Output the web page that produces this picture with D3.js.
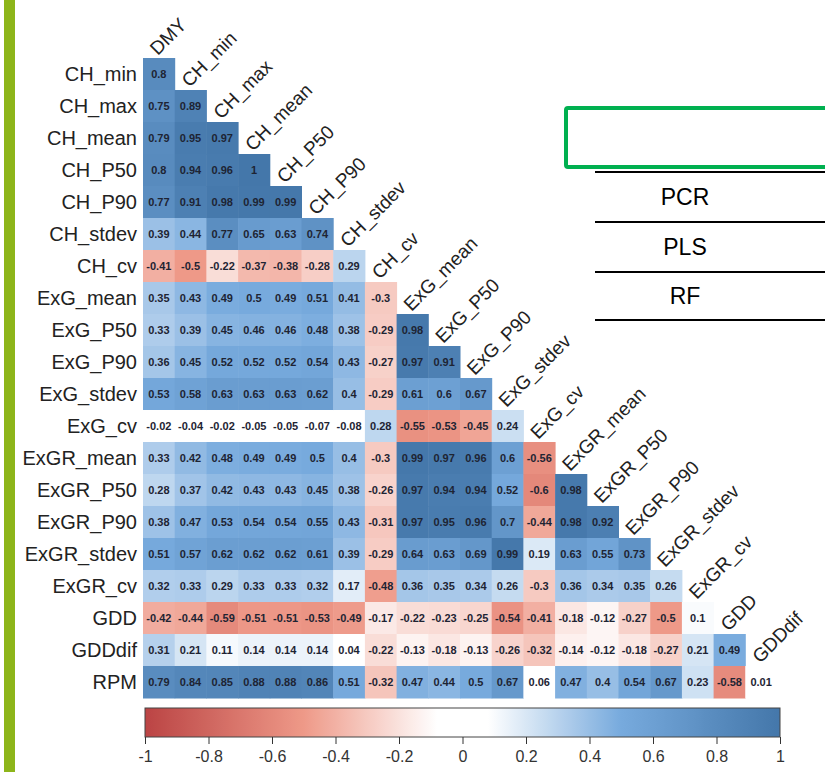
<!DOCTYPE html>
<html>
<head>
<meta charset="utf-8">
<script src="https://cdn.jsdelivr.net/npm/d3@7"></script>
<style>
  body { margin: 0; background: #fff; }
  text { font-family: "Liberation Sans", Arial, sans-serif; }
</style>
</head>
<body>
<svg width="825" height="772"></svg>
<script>
var svg = d3.select("svg"),
  width = 825,
  height = 772;

// variable names on each axis
var rowLabels = ["CH_min", "CH_max", "CH_mean", "CH_P50", "CH_P90", "CH_stdev", "CH_cv",
  "ExG_mean", "ExG_P50", "ExG_P90", "ExG_stdev", "ExG_cv", "ExGR_mean", "ExGR_P50",
  "ExGR_P90", "ExGR_stdev", "ExGR_cv", "GDD", "GDDdif", "RPM"];
var colLabels = ["DMY", "CH_min", "CH_max", "CH_mean", "CH_P50", "CH_P90", "CH_stdev", "CH_cv",
  "ExG_mean", "ExG_P50", "ExG_P90", "ExG_stdev", "ExG_cv", "ExGR_mean", "ExGR_P50",
  "ExGR_P90", "ExGR_stdev", "ExGR_cv", "GDD", "GDDdif"];

// lower triangle, one list per row
var corrValues = [
  [0.8],
  [0.75, 0.89],
  [0.79, 0.95, 0.97],
  [0.8, 0.94, 0.96, 1],
  [0.77, 0.91, 0.98, 0.99, 0.99],
  [0.39, 0.44, 0.77, 0.65, 0.63, 0.74],
  [-0.41, -0.5, -0.22, -0.37, -0.38, -0.28, 0.29],
  [0.35, 0.43, 0.49, 0.5, 0.49, 0.51, 0.41, -0.3],
  [0.33, 0.39, 0.45, 0.46, 0.46, 0.48, 0.38, -0.29, 0.98],
  [0.36, 0.45, 0.52, 0.52, 0.52, 0.54, 0.43, -0.27, 0.97, 0.91],
  [0.53, 0.58, 0.63, 0.63, 0.63, 0.62, 0.4, -0.29, 0.61, 0.6, 0.67],
  [-0.02, -0.04, -0.02, -0.05, -0.05, -0.07, -0.08, 0.28, -0.55, -0.53, -0.45, 0.24],
  [0.33, 0.42, 0.48, 0.49, 0.49, 0.5, 0.4, -0.3, 0.99, 0.97, 0.96, 0.6, -0.56],
  [0.28, 0.37, 0.42, 0.43, 0.43, 0.45, 0.38, -0.26, 0.97, 0.94, 0.94, 0.52, -0.6, 0.98],
  [0.38, 0.47, 0.53, 0.54, 0.54, 0.55, 0.43, -0.31, 0.97, 0.95, 0.96, 0.7, -0.44, 0.98, 0.92],
  [0.51, 0.57, 0.62, 0.62, 0.62, 0.61, 0.39, -0.29, 0.64, 0.63, 0.69, 0.99, 0.19, 0.63, 0.55, 0.73],
  [0.32, 0.33, 0.29, 0.33, 0.33, 0.32, 0.17, -0.48, 0.36, 0.35, 0.34, 0.26, -0.3, 0.36, 0.34, 0.35, 0.26],
  [-0.42, -0.44, -0.59, -0.51, -0.51, -0.53, -0.49, -0.17, -0.22, -0.23, -0.25, -0.54, -0.41, -0.18, -0.12, -0.27, -0.5, 0.1],
  [0.31, 0.21, 0.11, 0.14, 0.14, 0.14, 0.04, -0.22, -0.13, -0.18, -0.13, -0.26, -0.32, -0.14, -0.12, -0.18, -0.27, 0.21, 0.49],
  [0.79, 0.84, 0.85, 0.88, 0.88, 0.86, 0.51, -0.32, 0.47, 0.44, 0.5, 0.67, 0.06, 0.47, 0.4, 0.54, 0.67, 0.23, -0.58, 0.01]
];

var legendTicks = [-1, -0.8, -0.6, -0.4, -0.2, 0, 0.2, 0.4, 0.6, 0.8, 1];
var modelNames = ["PCR", "PLS", "RF"];

// colour ramp with a white band round zero
var color = d3.scaleLinear()
  .domain([-1, -0.5, -0.08, 0.08, 0.5, 1])
  .range(["#BB4444", "#EE9988", "#FFFFFF", "#FFFFFF", "#77AADD", "#4477AA"])
  .clamp(true);

// green bar on the left edge of the slide
svg.append("rect")
  .attr("x", 4).attr("y", 0)
  .attr("width", 11).attr("height", height)
  .attr("fill", "#8db51a");

var x = d3.scaleBand().domain(colLabels).range([143, 777]);
var y = d3.scaleBand().domain(rowLabels).range([58, 698]);

var cells = [];
corrValues.forEach((row, i) => {
  row.forEach((v, j) => {
    cells.push({ row: rowLabels[i], col: colLabels[j], value: v });
  });
});

var g = svg.append("g");

g.selectAll("rect.cell")
  .data(cells)
  .enter()
  .append("rect")
  .attr("class", "cell")
  .attr("x", (d) => x(d.col))
  .attr("y", (d) => y(d.row))
  .attr("width", x.bandwidth() + 0.5)
  .attr("height", y.bandwidth() + 0.5)
  .attr("fill", (d) => color(d.value));

g.selectAll("text.num")
  .data(cells)
  .enter()
  .append("text")
  .attr("class", "num")
  .attr("x", (d) => x(d.col) + x.bandwidth() / 2)
  .attr("y", (d) => y(d.row) + y.bandwidth() / 2)
  .attr("dy", "0.36em")
  .attr("text-anchor", "middle")
  .attr("font-size", "11px")
  .attr("font-weight", "bold")
  .attr("fill", "#1e2433")
  .text((d) => String(d.value));

// row names
g.selectAll("text.rowlab")
  .data(rowLabels)
  .enter()
  .append("text")
  .attr("class", "rowlab")
  .attr("x", 137)
  .attr("y", (d) => y(d) + y.bandwidth() / 2)
  .attr("dy", "0.36em")
  .attr("text-anchor", "end")
  .attr("font-size", "20px")
  .attr("fill", "#222")
  .text((d) => d);

// column names, tilted, sitting on top of each column
g.selectAll("text.collab")
  .data(colLabels)
  .enter()
  .append("text")
  .attr("class", "collab")
  .attr("transform", (d, j) => {
    var cx = x(d) + x.bandwidth() / 2 - 1;
    var cy = y(rowLabels[j]) - 2;
    return "translate(" + cx + "," + cy + ") rotate(-45)";
  })
  .attr("text-anchor", "start")
  .attr("font-size", "19px")
  .attr("fill", "#222")
  .text((d) => d);

// colour legend
var lx = d3.scaleLinear().domain([-1, 1]).range([145, 780]);
var barTop = 708, barH = 29;

var grad = svg.append("defs").append("linearGradient")
  .attr("id", "corrGrad")
  .attr("x1", "0%").attr("x2", "100%");
grad.selectAll("stop")
  .data(d3.range(0, 101))
  .enter()
  .append("stop")
  .attr("offset", (k) => k + "%")
  .attr("stop-color", (k) => color(-1 + k / 50));

svg.append("rect")
  .attr("x", lx(-1)).attr("y", barTop)
  .attr("width", lx(1) - lx(-1)).attr("height", barH)
  .attr("fill", "url(#corrGrad)")
  .attr("stroke", "#444")
  .attr("stroke-width", 1);

var legendAxis = svg.append("g")
  .attr("transform", "translate(0," + (barTop + barH) + ")")
  .call(d3.axisBottom(lx)
    .tickValues(legendTicks)
    .tickSize(7)
    .tickPadding(7)
    .tickFormat((d) => String(+d.toFixed(1))));
legendAxis.select(".domain").remove();
legendAxis.selectAll("line").attr("stroke", "#333");
legendAxis.selectAll("text")
  .attr("font-size", "16px")
  .attr("font-family", "'Liberation Sans', Arial, sans-serif")
  .attr("fill", "#333");

// table fragment on the right
svg.append("rect")
  .attr("x", 566).attr("y", 108)
  .attr("width", 300).attr("height", 59)
  .attr("rx", 2)
  .attr("fill", "none")
  .attr("stroke", "#00b050")
  .attr("stroke-width", 4);

var lineY = [172, 222, 272, 320];
svg.selectAll("line.rule")
  .data(lineY)
  .enter()
  .append("line")
  .attr("class", "rule")
  .attr("x1", 595).attr("x2", 825)
  .attr("y1", (d) => d).attr("y2", (d) => d)
  .attr("stroke", "#000")
  .attr("stroke-width", 2);

svg.selectAll("text.model")
  .data(modelNames)
  .enter()
  .append("text")
  .attr("class", "model")
  .attr("x", 685)
  .attr("y", (d, i) => (lineY[i] + lineY[i + 1]) / 2)
  .attr("dy", "0.36em")
  .attr("text-anchor", "middle")
  .attr("font-size", "23px")
  .attr("fill", "#000")
  .text((d) => d);
</script>
</body>
</html>
